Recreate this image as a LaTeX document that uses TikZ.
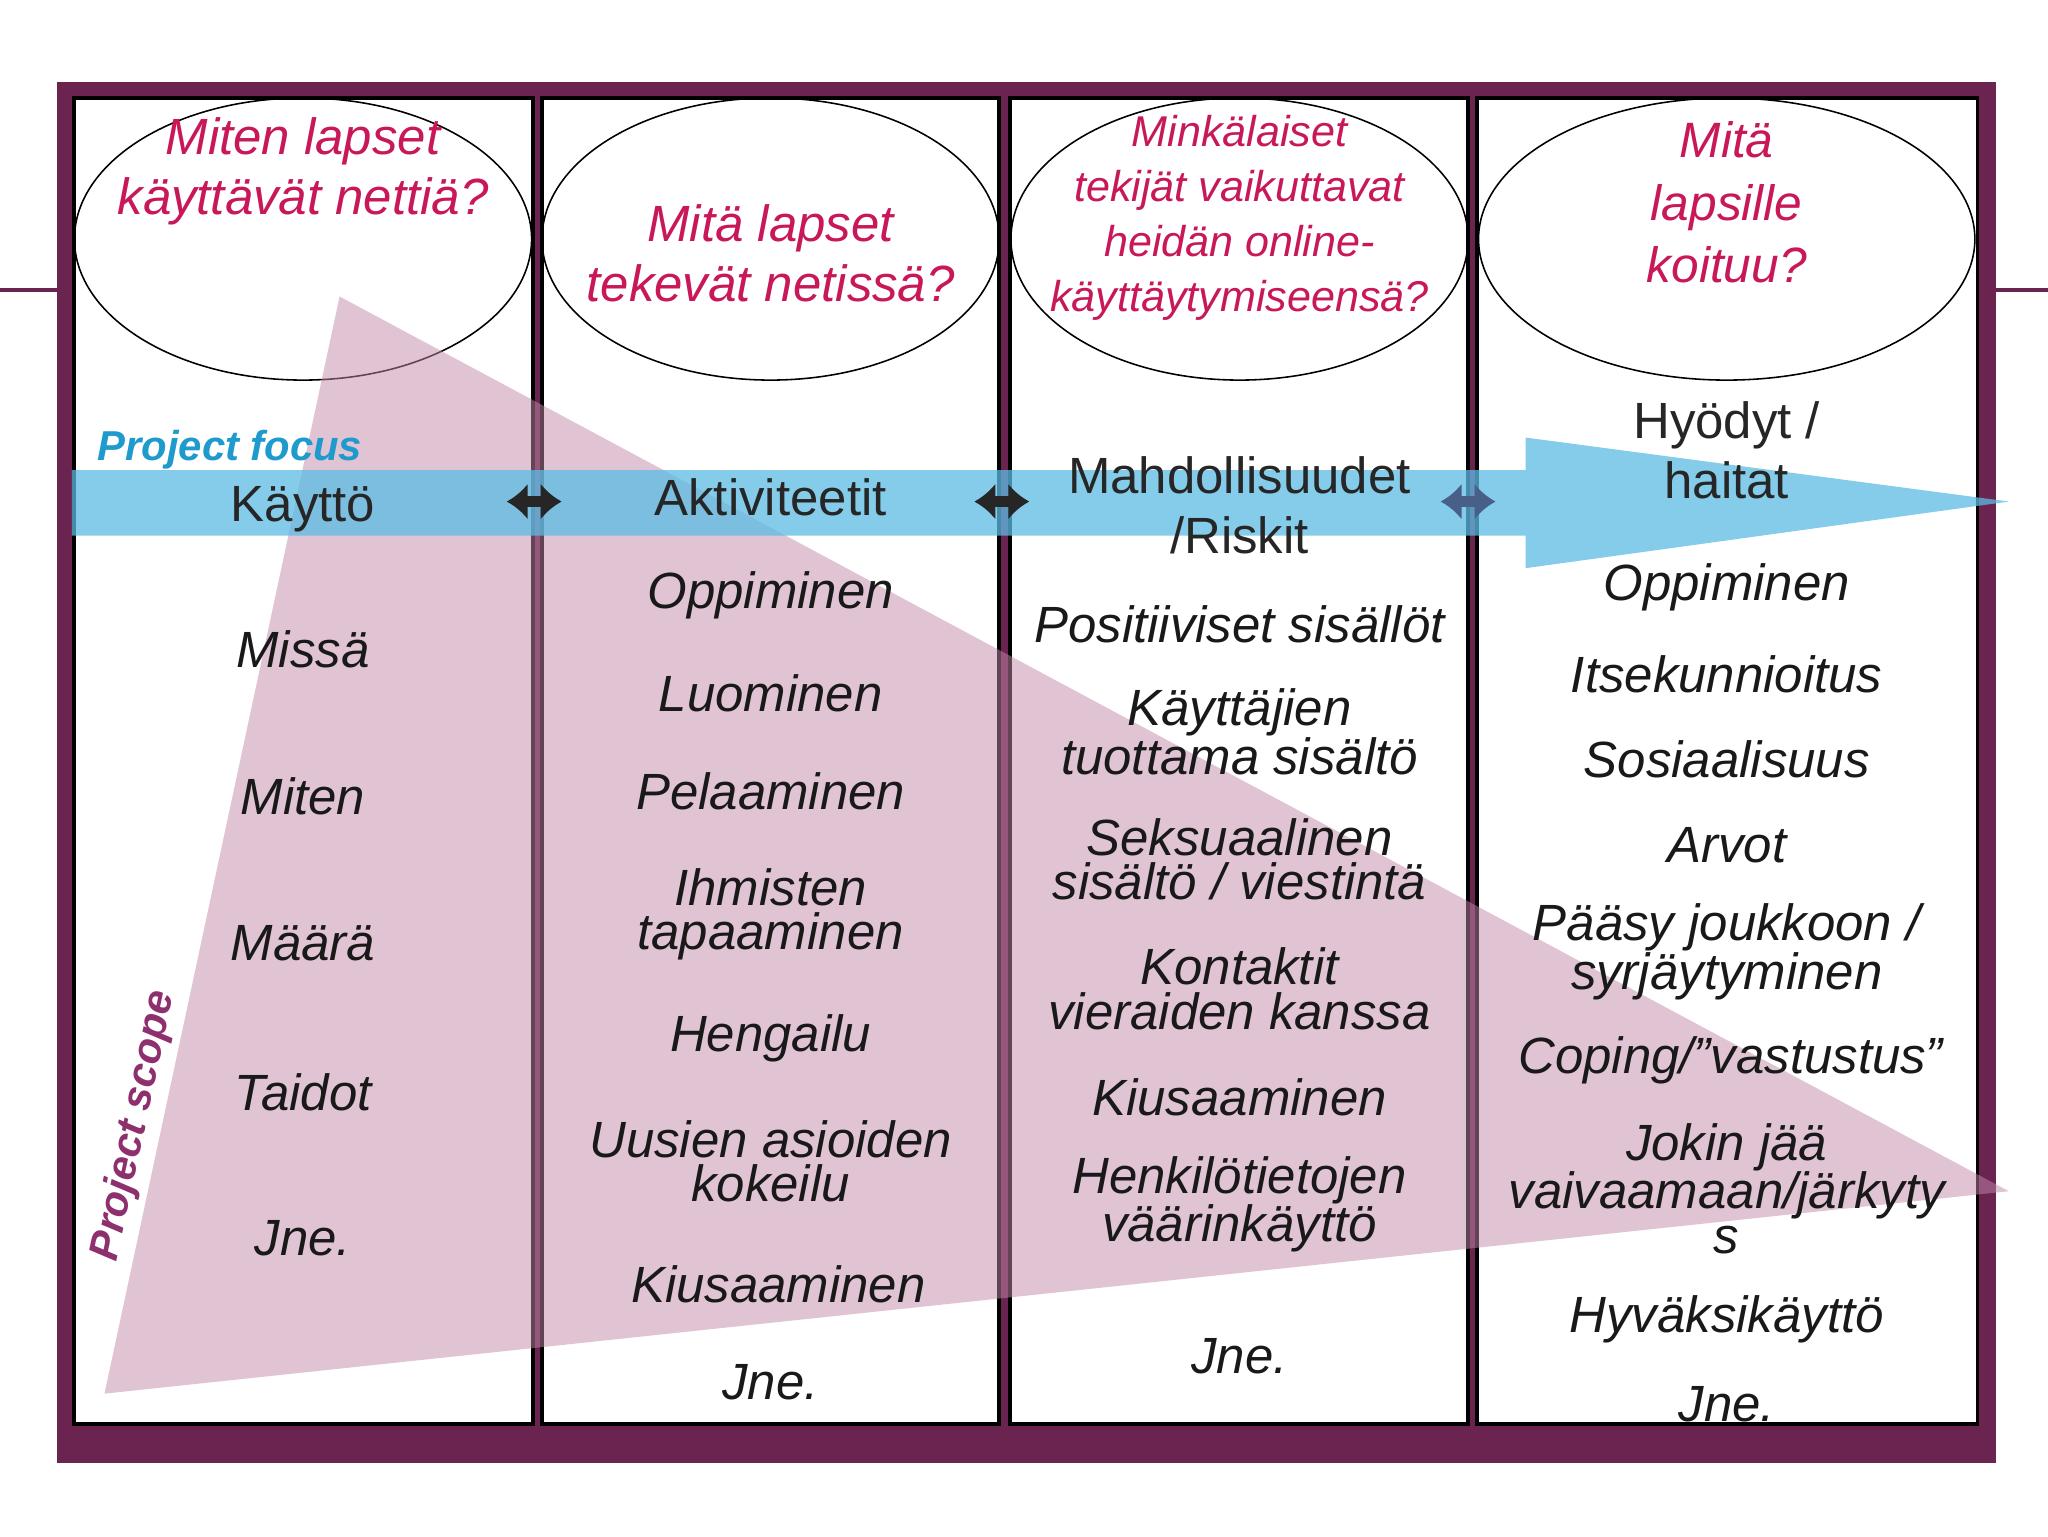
\documentclass[tikz,border=0pt]{standalone}
\usepackage{fontspec}
\setmainfont{Liberation Sans}
\usetikzlibrary{arrows.meta}
\definecolor{frame}{HTML}{6B2350}
\definecolor{crim}{HTML}{C8185A}
\definecolor{tri}{HTML}{C48AAA}
\definecolor{band}{HTML}{5BBCE4}
\definecolor{focus}{HTML}{1E9ACD}
\definecolor{scope}{HTML}{8E2F6E}
\tikzset{
 col/.style={draw=black,line width=3pt,fill=white},
 q/.style={draw=black,line width=1.2pt},
 qt/.style={text=crim,font=\itshape\fontsize{39}{46}\selectfont,align=center},
 it/.style={font=\itshape\fontsize{39}{34}\selectfont,align=center,text=black!90},
 up/.style={font=\fontsize{39}{39}\selectfont,align=center,text=black!85},
 dbl/.style={{Latex[length=16pt,width=28pt]}-{Latex[length=16pt,width=28pt]},line width=8pt,draw=black!85}
}
\begin{document}
\begin{tikzpicture}[x=1pt,y=-1pt]
\useasboundingbox (0,0) rectangle (1568,1176);
\fill[white] (0,0) rectangle (1568,1176);
\draw[frame,line width=3pt] (0,222) -- (45,222) (1528,222) -- (1568,222);
\fill[frame] (44,63) rectangle (1528,1120);
\draw[col] (57,75) rectangle (408,1090);
\draw[col] (415,75) rectangle (765,1090);
\draw[col] (773,75) rectangle (1124,1090);
\draw[col] (1131,75) rectangle (1514,1090);
\draw[q] (232,183) ellipse [x radius=175,y radius=108];
\draw[q] (590,183) ellipse [x radius=175,y radius=108];
\draw[q] (949,183) ellipse [x radius=175,y radius=108];
\draw[q] (1322,183) ellipse [x radius=190,y radius=108];
\fill[tri,opacity=0.5] (260,227) -- (80,1067) -- (1538,912) -- cycle;
\fill[band,opacity=0.75] (55,360) -- (1168,360) -- (1168,335) -- (1538,384) -- (1168,435) -- (1168,410) -- (55,410) -- cycle;
\node[qt] (q1) at (232,131) {Miten lapset\\käyttävät nettiä?};
\node[qt] (q2) at (590,194) {Mitä lapset\\tekevät netissä?};
\node[qt,font=\itshape\fontsize{33}{42}\selectfont] (q3) at (949,167) {Minkälaiset\\tekijät vaikuttavat\\heidän online-\\käyttäytymiseensä?};
\node[qt,font=\itshape\fontsize{38}{48}\selectfont] (q4) at (1322,155) {Mitä\\lapsille\\koituu?};
\node[text=focus,font=\bfseries\itshape\fontsize{32}{32}\selectfont] (pf) at (176,344) {Project focus};
\node[text=scope,font=\bfseries\itshape\fontsize{32}{32}\selectfont,rotate=78] (ps) at (103,862) {Project scope};
\coordinate (a1l) at (388,384); \coordinate (a1r) at (430,384);
\coordinate (a2l) at (746,384); \coordinate (a2r) at (788,384);
\coordinate (a3l) at (1103,384); \coordinate (a3r) at (1145,384);
\draw[dbl] (a1l) -- (a1r);
\draw[dbl] (a2l) -- (a2r);
\draw[dbl,draw=black!60!cyan!70!blue] (a3l) -- (a3r);
% column 1
\node[up] at (232,390) {Käyttö};
\node[it] at (232,497) {Missä};
\node[it] at (232,610) {Miten};
\node[it] at (232,722) {Määrä};
\node[it] at (232,836) {Taidot};
\node[it] at (232,948) {Jne.};
% column 2
\node[up] at (590,381) {Aktiviteetit};
\node[it] at (590,456) {Oppiminen};
\node[it] at (590,531) {Luominen};
\node[it] at (590,606) {Pelaaminen};
\node[it] at (590,700) {Ihmisten\\tapaaminen};
\node[it] at (590,795) {Hengailu};
\node[it] at (590,889) {Uusien asioiden\\kokeilu};
\node[it] at (596,983) {Kiusaaminen};
\node[it] at (590,1058) {Jne.};
% column 3
\node[up,font=\fontsize{39}{46}\selectfont] at (949,387) {Mahdollisuudet\\/Riskit};
\node[it] at (949,478) {Positiiviset sisällöt};
\node[it] at (949,560) {Käyttäjien\\tuottama sisältö};
\node[it] at (949,658) {Seksuaalinen\\sisältö / viestintä};
\node[it] at (949,757) {Kontaktit\\vieraiden kanssa};
\node[it] at (949,840) {Kiusaaminen};
\node[it] at (949,922) {Henkilötietojen\\väärinkäyttö};
\node[it] at (949,1038) {Jne.};
% column 4
\node[up,font=\fontsize{39}{46}\selectfont] at (1322,345) {Hyödyt /\\haitat};
\node[it] at (1322,450) {Oppiminen};
\node[it] at (1322,516) {Itsekunnioitus};
\node[it] at (1322,581) {Sosiaalisuus};
\node[it] at (1322,647) {Arvot};
\node[it] at (1322,729) {Pääsy joukkoon /\\syrjäytyminen};
\node[it] at (1325,812) {Coping/”vastustus”};
\node[it] at (1322,910) {Jokin jää\\vaivaamaan/järkyty\\s};
\node[it] at (1322,1010) {Hyväksikäyttö};
\node[it] at (1322,1075) {Jne.};
\end{tikzpicture}
\end{document}
